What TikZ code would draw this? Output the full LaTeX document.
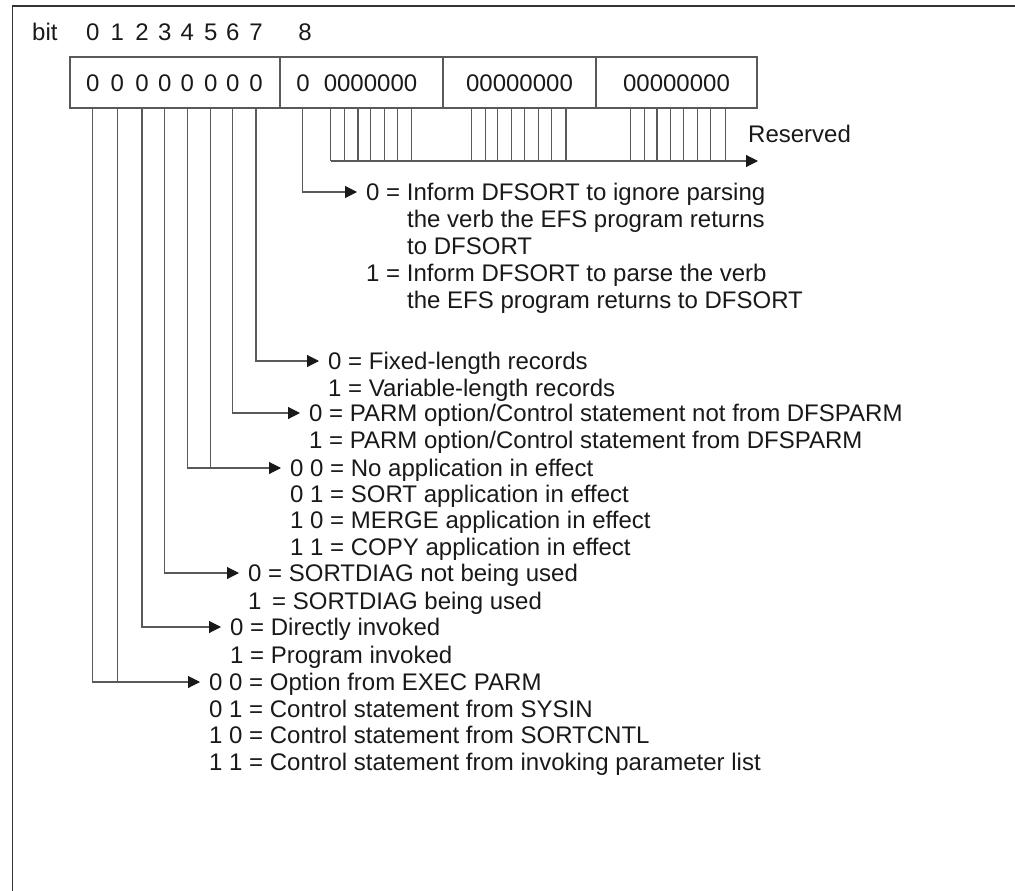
\documentclass[tikz,border=0pt]{standalone}
\usepackage{fontspec}
\setmainfont{Liberation Sans}
\usetikzlibrary{arrows.meta}

\begin{document}
\begin{tikzpicture}[x=1pt, y=-1pt,
    num/.style={inner sep=0pt, text height=17.2pt, text depth=0pt, font=\fontsize{24}{27}\selectfont, text=black!90},
    lbl/.style={num, anchor=west, inner xsep=9pt},
    byte/.style={num, rectangle, draw=black!65, line width=1.2pt, minimum height=51pt},
    wire/.style={draw=black!65, line width=1.1pt},
    arr/.style={wire, -{Triangle[length=12pt, width=12pt, color=black!90]}}
]
\useasboundingbox (0,0) rectangle (1015,891);
\draw[line width=1.8pt, black!80] (1015,6) -- (12.5,6) -- (12.5,891);

\node[byte, minimum width=210pt] (byte0) at (175,82.5) {};
\node[byte, minimum width=163pt] (byte1) at (361.5,82.5) {};
\node[byte, minimum width=153pt] (byte2) at (519.5,82.5) {00000000};
\node[byte, minimum width=161pt] (byte3) at (676.5,82.5) {00000000};

\node[lbl] (bit) at (23,32) {bit};
\foreach \x [count=\i from 0] in {92.7,117.3,142,164.7,187.3,210.7,232.7,256} {
  \node[num] (h\i) at (\x,32) {\i};
  \node[num] (d\i) at (\x,82.5) {0};
  \coordinate (b\i) at (\x,108);
}
\node[num] (h8) at (305,32) {8};
\node[num] (d8) at (303,82.5) {0};
\node[num] (d9) at (370.5,82.5) {0000000};
\coordinate (b8) at (302.7,108);

\foreach \x in {330.7,344.7,358,370.7,384.3,397.7,411.7,
                471.7,485.3,497.7,511.3,524.7,538.7,551.7,566,
                630.3,644.3,657,670.3,683.7,697.7,710.7,725.3}
  \draw[wire] (\x,108) -- (\x,161);
\coordinate (rbase) at (330.7,161);
\coordinate (rtip) at (758,161);
\draw[arr] (rbase) -- (rtip);
\node[lbl] (reserved) at (739,134) {Reserved};

\node[lbl] (inf0) at (357,192) {0 = Inform DFSORT to ignore parsing};
\node[lbl] (inf1) at (398,219) {the verb the EFS program returns};
\node[lbl] (inf2) at (398,246) {to DFSORT};
\node[lbl] (inf3) at (357,273) {1 = Inform DFSORT to parse the verb};
\node[lbl] (inf4) at (398,300) {the EFS program returns to DFSORT};
\draw[arr] (b8) |- (inf0.west);

\node[lbl] (fix0) at (319,361) {0 = Fixed-length records};
\node[lbl] (fix1) at (319,388) {1 = Variable-length records};
\draw[arr] (b7) |- (fix0.west);

\node[lbl] (dfs0) at (300,413) {0 = PARM option/Control statement not from DFSPARM};
\node[lbl] (dfs1) at (300,440) {1 = PARM option/Control statement from DFSPARM};
\draw[arr] (b6) |- (dfs0.west);

\node[lbl] (app0) at (281,468) {0 0 = No application in effect};
\node[lbl] (app1) at (281,494) {0 1 = SORT application in effect};
\node[lbl] (app2) at (281,520) {1 0 = MERGE application in effect};
\node[lbl] (app3) at (281,547) {1 1 = COPY application in effect};
\draw[arr] (b4) |- (app0.west);
\draw[wire] (b5) -- (b5 |- app0.west);

\node[lbl] (diag0) at (239,573) {0 = SORTDIAG not being used};
\node[lbl] (diag1) at (239,601) {1 \,= SORTDIAG being used};
\draw[arr] (b3) |- (diag0.west);

\node[lbl] (inv0) at (221,627) {0 = Directly invoked};
\node[lbl] (inv1) at (221,655) {1 = Program invoked};
\draw[arr] (b2) |- (inv0.west);

\node[lbl] (src0) at (200,682) {0 0 = Option from EXEC PARM};
\node[lbl] (src1) at (200,709) {0 1 = Control statement from SYSIN};
\node[lbl] (src2) at (200,735) {1 0 = Control statement from SORTCNTL};
\node[lbl] (src3) at (200,762) {1 1 = Control statement from invoking parameter list};
\draw[arr] (b0) |- (src0.west);
\draw[wire] (b1) -- (b1 |- src0.west);
\end{tikzpicture}
\end{document}
